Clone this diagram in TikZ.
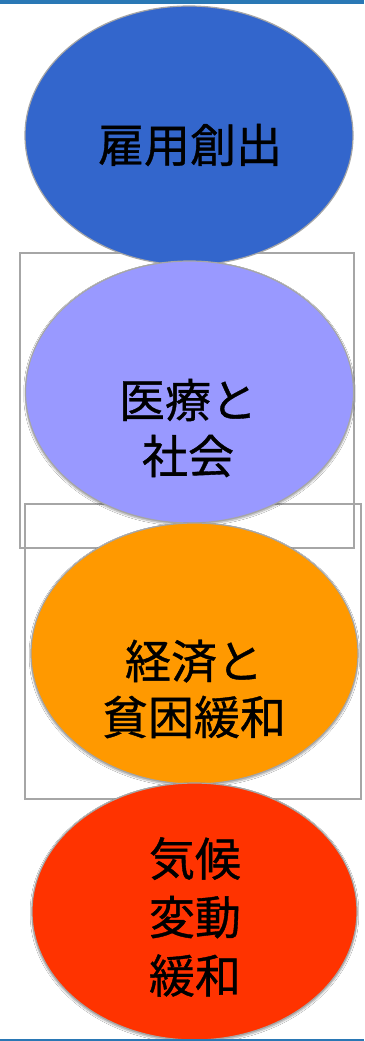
\documentclass[tikz,border=0pt]{standalone}
\usepackage{fontspec}
\newfontfamily\jpfont[FakeBold=0.8]{Noto Sans CJK JP}
\usetikzlibrary{shapes.geometric,shadows.blur}
\definecolor{topbar}{HTML}{2A78B5}
\definecolor{edgegray}{HTML}{A6A6A6}
\definecolor{cA}{HTML}{3366CC}
\definecolor{cB}{HTML}{9999FF}
\definecolor{cC}{HTML}{FF9900}
\definecolor{cD}{HTML}{FF3300}
\tikzset{
  bubble/.style={ellipse, draw=edgegray, line width=1.2pt, inner sep=0pt},
  sbubble/.style={bubble, blur shadow={shadow xshift=0pt, shadow yshift=-1.5pt, shadow blur steps=6, shadow blur extra rounding=2pt, shadow opacity=35}},
  frame/.style={draw=edgegray, line width=1.3pt},
  lbl/.style={font=\jpfont\fontsize{46}{56}\selectfont, align=center, inner sep=0pt, text=black},
}
\begin{document}
\begin{tikzpicture}[x=1pt,y=-1pt]
\useasboundingbox (0,0) rectangle (364,1041);
\fill[white] (0,0) rectangle (364,1041);
% frames behind the ellipses
\node[frame, minimum width=334pt, minimum height=295pt, inner sep=0pt] (f1) at (187,400.5) {};
\node[frame, minimum width=336pt, minimum height=295pt, inner sep=0pt] (f2) at (193,651.5) {};
% ellipses
\node[bubble, fill=cA, minimum width=328pt, minimum height=259pt] (e1) at (189,135.5) {};
\node[sbubble, fill=cB, minimum width=328pt, minimum height=262pt] (e2) at (189.5,392) {};
\node[sbubble, fill=cC, minimum width=327pt, minimum height=261pt] (e3) at (194.5,653.5) {};
\node[sbubble, fill=cD, minimum width=325pt, minimum height=257pt] (e4) at (194.5,911.5) {};
% labels
\node[lbl] (t1) at (190,145) {雇用創出};
\node[lbl] (t2) at (188,428) {医療と\\社会};
\node[lbl] (t3) at (194,689) {経済と\\貧困緩和};
\node[lbl, font=\jpfont\fontsize{46}{58.5}\selectfont] (t4) at (195,917) {気候\\変動\\緩和};
% top and bottom bars
\fill[topbar] (0,0) rectangle (364,3.7);
\fill[topbar] (0,1039) rectangle (364,1041);
\end{tikzpicture}
\end{document}
